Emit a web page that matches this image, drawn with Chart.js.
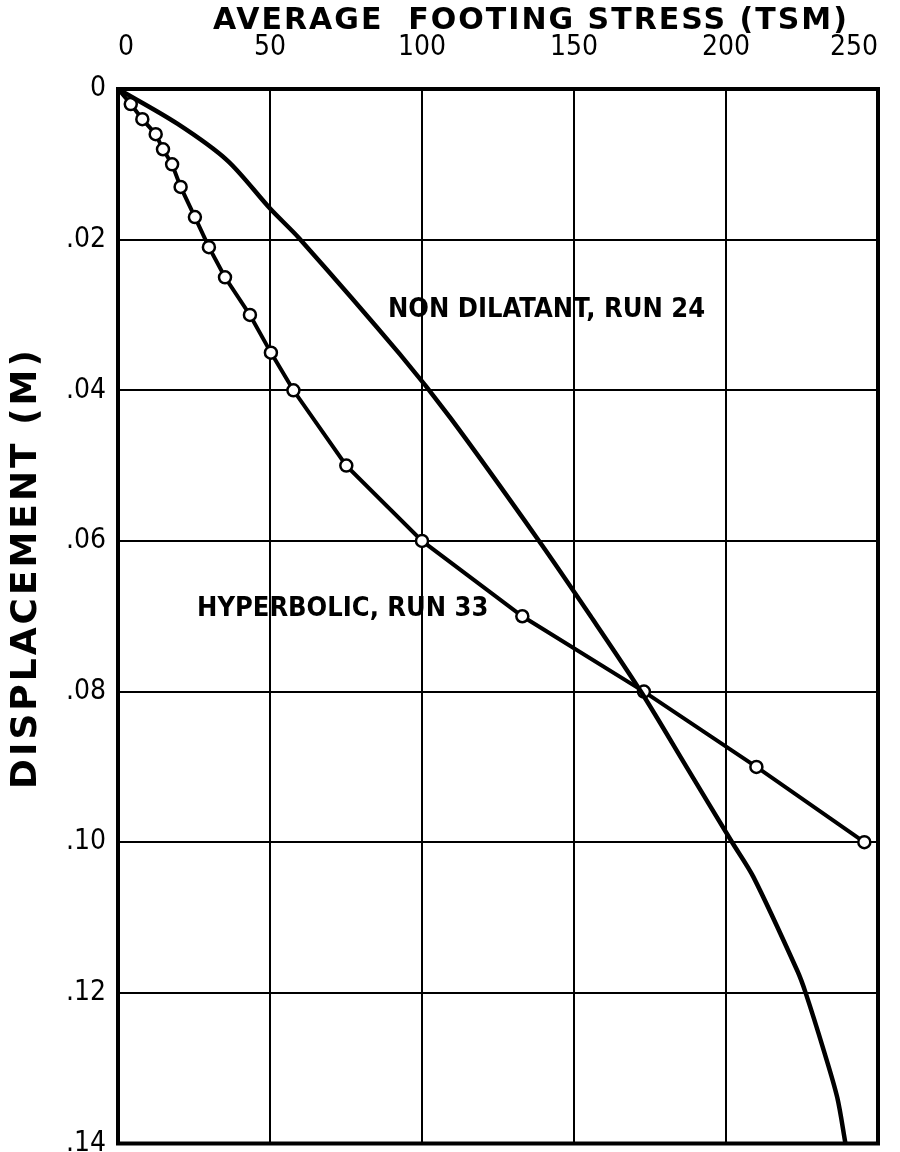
<!DOCTYPE html>
<html>
<head>
<meta charset="utf-8">
<script src="https://cdn.jsdelivr.net/npm/chart.js@4.4.1/dist/chart.umd.min.js"></script>
<style>
  html, body { margin: 0; padding: 0; background: #fff; }
  #wrap { width: 900px; height: 1152px; }
</style>
</head>
<body>
<div id="wrap"><canvas id="chart" width="900" height="1152"></canvas></div>
<script>
// Footing load test: stress (TSM) vs displacement (M)
const X_TITLE = 'AVERAGE  FOOTING STRESS (TSM)';
const Y_TITLE = 'DISPLACEMENT (M)';
const X_TICKS = [0, 50, 100, 150, 200, 250];
const Y_TICKS = [0, 0.02, 0.04, 0.06, 0.08, 0.10, 0.12, 0.14];

// Hyperbolic model, run 33 (measured points, circled)
const hypStress = [0, 4.2, 8.0, 12.4, 14.8, 17.8, 20.6, 25.3, 29.9, 35.2, 43.4, 50.3, 57.7, 75.1, 100, 133, 173, 210, 245.5];
const hypDisp   = [0, 0.002, 0.004, 0.006, 0.008, 0.010, 0.013, 0.017, 0.021, 0.025, 0.030, 0.035, 0.040, 0.050, 0.060, 0.070, 0.080, 0.090, 0.100];

// Non dilatant model, run 24 (continuous curve)
const ndStress = [0, 19.5, 36, 50.1, 59.8, 92.7, 109.4, 138.5, 155.5, 172, 187, 202, 209, 223.5, 226.2, 232.2, 236.6, 239.3];
const ndDisp   = [0, 0.0046, 0.0095, 0.0159, 0.0199, 0.0352, 0.0437, 0.060, 0.070, 0.080, 0.090, 0.100, 0.1046, 0.1171, 0.120, 0.1277, 0.1339, 0.140];

const CURVE_LABELS = [
  { text: 'NON DILATANT, RUN 24', stress: 88.8, disp: 0.0293 },
  { text: 'HYPERBOLIC, RUN 33', stress: 26, disp: 0.069 }
];

const INK = '#000';
const TICK_FONT = { family: '"Liberation Sans Narrow", "DejaVu Sans Condensed", "DejaVu Sans"', size: 28 };
const pts = (xs, ys) => xs.map((x, i) => ({ x, y: ys[i] }));

// narrow, tall lettering: draw with a horizontal squeeze
function squeezedText(ctx, text, x, y, sx) {
  ctx.save();
  ctx.translate(x, y);
  ctx.scale(sx, 1);
  ctx.fillText(text, 0, 0);
  ctx.restore();
}

const frameAndText = {
  id: 'frameAndText',
  beforeDatasetsDraw(chart) {
    const { ctx, chartArea: a } = chart;
    ctx.save();
    ctx.strokeStyle = INK;
    ctx.lineWidth = 4;
    ctx.strokeRect(a.left, a.top, a.right - a.left, a.bottom - a.top);
    ctx.restore();
  },
  afterDraw(chart) {
    const { ctx, scales } = chart;
    ctx.save();
    ctx.fillStyle = INK;
    ctx.textAlign = 'center';
    ctx.textBaseline = 'middle';
    ctx.font = 'bold 30px "DejaVu Sans"';
    ctx.letterSpacing = '2px';
    ctx.fillText(X_TITLE, 531, 21);

    ctx.font = 'bold 36px "DejaVu Sans"';
    ctx.letterSpacing = '3px';
    ctx.save();
    ctx.translate(27, 568);
    ctx.rotate(-Math.PI / 2);
    ctx.fillText(Y_TITLE, 0, 0);
    ctx.restore();

    ctx.letterSpacing = '0px';
    ctx.font = 'bold 27px "DejaVu Sans"';
    ctx.textAlign = 'left';
    CURVE_LABELS.forEach(l => {
      squeezedText(ctx, l.text, scales.x.getPixelForValue(l.stress), scales.y.getPixelForValue(l.disp), 0.9);
    });
    ctx.restore();
  }
};

new Chart(document.getElementById('chart'), {
  type: 'scatter',
  data: {
    datasets: [
      {
        label: 'Non dilatant, run 24',
        data: pts(ndStress, ndDisp),
        showLine: true,
        borderColor: INK,
        borderWidth: 4.5,
        pointRadius: 0,
        tension: 0.3
      },
      {
        label: 'Hyperbolic, run 33',
        data: pts(hypStress, hypDisp),
        showLine: true,
        borderColor: INK,
        borderWidth: 4,
        tension: 0,
        pointRadius: hypStress.map((_, i) => i === 0 ? 0 : 6),
        pointBorderWidth: 2.5,
        pointBorderColor: INK,
        pointBackgroundColor: '#fff'
      },
      {
        // centre dots of the circled points
        label: 'centres',
        data: pts(hypStress, hypDisp).slice(1),
        showLine: false,
        pointRadius: 1.6,
        pointBorderWidth: 0,
        pointBackgroundColor: INK
      }
    ]
  },
  options: {
    responsive: false,
    animation: false,
    devicePixelRatio: 1,
    layout: { padding: { top: 0, left: 0, right: 22, bottom: 3 } },
    plugins: {
      legend: { display: false },
      tooltip: { enabled: false }
    },
    scales: {
      x: {
        type: 'linear',
        position: 'top',
        min: 0,
        max: 250,
        afterFit: s => { s.height = 89; s.paddingLeft = 0; s.paddingRight = 0; },
        afterBuildTicks: s => { s.ticks = X_TICKS.map(v => ({ value: v })); },
        grid: { color: INK, lineWidth: 2, drawTicks: false },
        border: { display: false },
        ticks: { color: INK, padding: 24, align: 'inner', font: TICK_FONT }
      },
      y: {
        type: 'linear',
        reverse: true,
        min: 0,
        max: 0.14,
        afterFit: s => { s.width = 118; s.paddingTop = 0; s.paddingBottom = 0; },
        afterBuildTicks: s => { s.ticks = Y_TICKS.map(v => ({ value: v })); },
        grid: { color: INK, lineWidth: 2, drawTicks: false },
        border: { display: false },
        ticks: {
          color: INK,
          padding: 12,
          font: TICK_FONT,
          callback: v => v === 0 ? '0' : v.toFixed(2).replace(/^0/, '')
        }
      }
    }
  },
  plugins: [frameAndText]
});
</script>
</body>
</html>
